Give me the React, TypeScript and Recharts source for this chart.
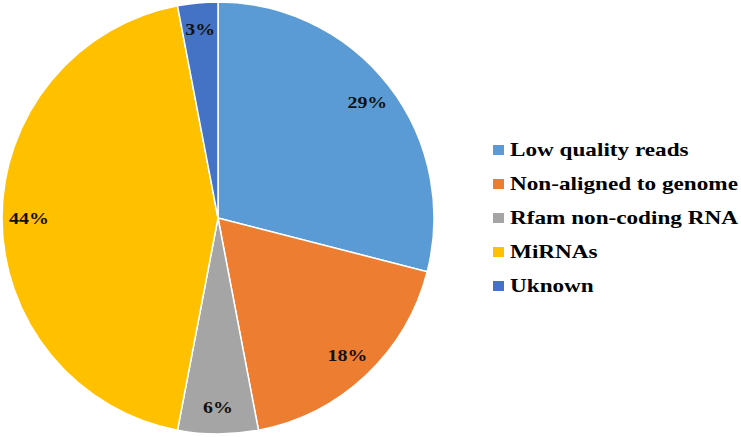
import { PieChart, Pie, Cell, Legend } from 'recharts';

if (typeof document !== 'undefined') document.body.style.margin = '0';

const categories = ['Low quality reads', 'Non-aligned to genome', 'Rfam non-coding RNA', 'MiRNAs', 'Uknown'];
const shares = [29, 18, 6, 44, 3];
const colors = ['#5B9BD5', '#ED7D31', '#A5A5A5', '#FFC000', '#4472C4'];

const data = categories.map((name, i) => ({ name, value: shares[i] }));

const RAD = Math.PI / 180;
const serif = '"Liberation Serif", "Times New Roman", serif';

function renderLabel(props: any) {
  const { cx, cy, midAngle, outerRadius, value } = props;
  const r = outerRadius * 0.875;
  const x = cx + r * Math.cos(-midAngle * RAD);
  const y = cy + r * Math.sin(-midAngle * RAD);
  return (
    <text
      transform={`translate(${x},${y}) scale(1.17,1)`}
      textAnchor="middle"
      dominantBaseline="central"
      fill="#111"
      fontFamily={serif}
      fontWeight="bold"
      fontSize={17}
    >
      {value}%
    </text>
  );
}

function LegendBox() {
  return (
    <div>
      {categories.map((name, i) => (
        <div key={name} style={{ height: 34, display: 'flex', alignItems: 'center' }}>
          <span style={{ width: 11, height: 10, background: colors[i], marginRight: 6, flex: 'none' }} />
          <span
            style={{
              fontFamily: serif,
              fontWeight: 'bold',
              fontSize: 19,
              color: '#000',
              whiteSpace: 'nowrap',
              display: 'inline-block',
              transform: 'scaleX(1.22)',
              transformOrigin: 'left center',
            }}
          >
            {name}
          </span>
        </div>
      ))}
    </div>
  );
}

export default function App() {
  return (
    <div style={{ width: 741, height: 437, background: '#fff', overflow: 'hidden' }}>
      <PieChart width={741} height={437} margin={{ top: 0, right: 0, bottom: 0, left: 0 }}>
        <Pie
          data={data}
          dataKey="value"
          nameKey="name"
          cx={218}
          cy={218}
          outerRadius={216}
          startAngle={90}
          endAngle={-270}
          stroke="#fff"
          strokeWidth={1.5}
          label={renderLabel}
          labelLine={false}
          isAnimationActive={false}
        >
          {data.map((d, i) => (
            <Cell key={d.name} fill={colors[i]} />
          ))}
        </Pie>
        <Legend
          layout="vertical"
          align="right"
          verticalAlign="top"
          content={() => <LegendBox />}
          wrapperStyle={{ left: 493, top: 133, width: 248 }}
        />
      </PieChart>
    </div>
  );
}
